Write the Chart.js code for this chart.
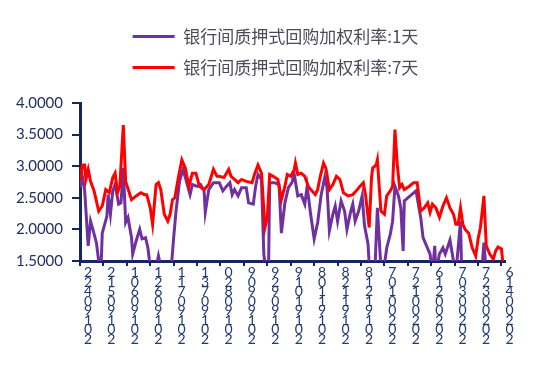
<!DOCTYPE html>
<html>
<head>
<meta charset="utf-8">
<script src="https://cdn.jsdelivr.net/npm/chart.js@4/dist/chart.umd.min.js"></script>
<style>
    html, body { margin: 0; padding: 0; background: #fff; }
    #wrap { width: 541px; height: 371px; position: relative; }
</style>
</head>
<body>
<div id="wrap"><canvas id="chart"></canvas></div>
<script>
// series names
const seriesNames = ['银行间质押式回购加权利率:1天', '银行间质押式回购加权利率:7天'];

// x tick labels, one every 20 days starting 2019-04-22
const tickDates = ['20190422', '20190512', '20190601', '20190621', '20190711', '20190731', '20190820',
    '20190909', '20190929', '20191019', '20191108', '20191128', '20191218', '20200107',
    '20200127', '20200216', '20200307', '20200327', '20200416'];

// y tick values
const yTicks = [1.5, 2.0, 2.5, 3.0, 3.5, 4.0];

// 1-day rate: days since 2019-04-22 and value (%)
const days1 = [0, 2, 4, 7, 9, 11, 14, 16, 18, 19, 23, 24, 26, 28, 30, 33, 35, 37, 39, 41,
    44, 45, 48, 51, 53, 56, 58, 60, 63, 65, 67, 69, 73, 78, 80, 82, 85, 88, 90, 94,
    96, 100, 103, 106, 107, 110, 114, 116, 119, 122, 125, 128, 130, 132, 135, 138, 142, 144, 148, 150,
    152, 155, 157, 159, 161, 162, 166, 170, 172, 175, 178, 181, 183, 186, 189, 192, 194, 197, 200, 203,
    206, 209, 211, 213, 216, 218, 220, 223, 226, 228, 231, 233, 235, 238, 241, 243, 246, 247, 249, 252,
    254, 257, 259, 262, 265, 267, 269, 272, 274, 276, 277, 287, 291, 293, 296, 299, 301, 303, 304, 307,
    310, 312, 316, 319, 321, 323, 325, 326, 333, 341, 343, 345, 347, 354, 361];
const rate1 = [2.66, 2.84, 2.61, 1.74, 2.13, 2.00, 1.79, 1.50, 1.40, 1.94, 2.21, 2.55, 2.24, 2.61, 2.71, 2.40, 2.42, 2.97, 2.11, 2.19,
    1.87, 1.61, 1.82, 2.00, 1.85, 1.87, 1.71, 1.40, 1.30, 1.40, 1.58, 1.40, 1.30, 1.40, 1.87, 2.29, 2.76, 2.95, 2.82, 2.55,
    2.71, 2.68, 2.71, 2.61, 2.27, 2.63, 2.74, 2.74, 2.74, 2.61, 2.68, 2.74, 2.55, 2.63, 2.53, 2.66, 2.66, 2.42, 2.40, 2.68,
    2.87, 2.79, 1.61, 1.30, 1.30, 2.74, 2.74, 2.71, 1.94, 2.42, 2.66, 2.74, 2.87, 2.53, 2.55, 2.40, 2.68, 2.24, 1.85, 2.11,
    2.55, 2.82, 2.66, 1.98, 2.24, 2.37, 2.13, 2.45, 2.29, 2.00, 2.27, 2.40, 2.13, 2.29, 2.53, 2.06, 1.77, 1.45, 1.30, 1.40,
    2.34, 1.40, 1.30, 1.71, 1.92, 2.13, 2.68, 2.53, 2.34, 1.66, 2.45, 2.61, 2.19, 1.87, 1.74, 1.61, 1.30, 1.74, 1.30, 1.61,
    1.71, 1.61, 1.83, 1.50, 1.30, 1.71, 2.13, 1.30, 1.20, 1.25, 1.30, 1.79, 1.30, 1.25, 1.20];

// 7-day rate: days since 2019-04-22 and value (%)
const days7 = [0, 2, 4, 5, 7, 9, 12, 16, 19, 22, 25, 28, 30, 32, 34, 37, 39, 44, 48, 52,
    55, 57, 60, 62, 65, 67, 69, 72, 75, 77, 79, 81, 84, 87, 90, 93, 96, 99, 102, 106,
    110, 114, 117, 119, 123, 127, 129, 132, 135, 138, 142, 147, 149, 152, 155, 158, 160, 162, 165, 169,
    172, 175, 177, 180, 183, 184, 186, 189, 192, 195, 198, 201, 203, 205, 208, 210, 213, 216, 219, 222,
    225, 229, 233, 236, 239, 242, 244, 247, 249, 250, 253, 254, 257, 260, 262, 265, 267, 269, 271, 273,
    275, 277, 281, 285, 288, 291, 294, 297, 299, 301, 304, 307, 310, 313, 316, 319, 321, 323, 325, 327,
    329, 332, 335, 338, 340, 342, 345, 347, 350, 353, 355, 357, 360, 361];
const rate7 = [2.76, 3.02, 3.02, 2.79, 2.95, 2.76, 2.61, 2.29, 2.37, 2.63, 2.58, 2.82, 2.89, 2.58, 2.68, 3.65, 2.76, 2.47, 2.53, 2.58,
    2.55, 2.55, 2.34, 2.08, 2.71, 2.74, 2.63, 2.24, 2.13, 2.24, 2.47, 2.50, 2.82, 3.10, 2.97, 2.68, 2.89, 2.89, 2.68, 2.63,
    2.71, 2.95, 2.84, 2.84, 2.82, 2.95, 2.84, 2.79, 2.74, 2.79, 2.76, 2.74, 2.87, 3.02, 2.89, 2.03, 2.19, 2.87, 2.84, 2.79,
    2.47, 2.68, 2.87, 2.84, 2.95, 3.05, 2.87, 2.89, 2.84, 2.68, 2.61, 2.55, 2.63, 2.82, 3.05, 2.97, 2.63, 2.71, 2.84, 2.79,
    2.58, 2.53, 2.55, 2.61, 2.68, 2.74, 2.53, 2.03, 2.82, 2.97, 3.02, 3.10, 2.29, 2.24, 2.53, 2.61, 2.68, 3.58, 3.02, 2.66,
    2.71, 2.63, 2.68, 2.74, 2.74, 2.29, 2.34, 2.42, 2.27, 2.40, 2.34, 2.19, 2.37, 2.50, 2.34, 2.24, 2.08, 2.08, 2.34, 2.08,
    2.00, 1.94, 1.71, 1.58, 1.85, 2.03, 2.53, 1.74, 1.61, 1.53, 1.66, 1.72, 1.69, 1.50];

const axisColor = '#13275e';
const labelColor = '#1f2d5e';

const points = (xs, ys) => xs.map((d, i) => ({x: d, y: ys[i]}));

// push the plot area down below the legend and nudge the legend right
const legendTweak = {
    id: 'legendTweak',
    beforeInit(chart) {
        const fit = chart.legend.fit;
        chart.legend.fit = function () {
            fit.bind(chart.legend)();
            this.height += 17;
        };
    },
    afterLayout(chart) {
        chart.legend.left += 23;
        chart.legend.right += 23;
    }
};

new Chart(document.getElementById('chart'), {
    type: 'line',
    data: {
        datasets: [
            {
                label: seriesNames[0],
                data: points(days1, rate1),
                borderColor: '#7030a0',
                backgroundColor: '#7030a0',
                borderWidth: 3,
                pointRadius: 0,
                tension: 0,
                order: 1
            },
            {
                label: seriesNames[1],
                data: points(days7, rate7),
                borderColor: '#ff0000',
                backgroundColor: '#ff0000',
                borderWidth: 3,
                pointRadius: 0,
                tension: 0,
                order: 0
            }
        ]
    },
    options: {
        responsive: true,
        maintainAspectRatio: false,
        animation: false,
        layout: {padding: {top: 14, right: 36, bottom: 0, left: 0}},
        plugins: {
            tooltip: {enabled: false},
            legend: {
                position: 'top',
                labels: {
                    boxWidth: 42,
                    boxHeight: 3,
                    padding: 14,
                    color: '#4a4a5c',
                    font: {family: '"Noto Sans CJK SC", sans-serif', size: 17},
                    generateLabels(chart) {
                        const items = Chart.defaults.plugins.legend.labels.generateLabels(chart);
                        items.forEach(it => { it.lineWidth = 0; });
                        return items.sort((a, b) => a.datasetIndex - b.datasetIndex);
                    }
                }
            }
        },
        scales: {
            x: {
                type: 'linear',
                min: 0,
                max: 363,
                afterFit(scale) { scale.height = 110; },
                border: {display: true, color: axisColor, width: 3},
                grid: {display: true, drawOnChartArea: false, drawTicks: true, tickLength: 5, color: axisColor, lineWidth: 2},
                ticks: {
                    stepSize: 20,
                    includeBounds: false,
                    autoSkip: false,
                    maxRotation: 0,
                    minRotation: 0,
                    padding: 2,
                    labelOffset: 8,
                    color: '#203a72',
                    font: {family: 'Lato, sans-serif', size: 14, lineHeight: 0.68},
                    callback(value) {
                        const s = tickDates[Math.round(value / 20)];
                        return s ? s.split('').reverse() : '';
                    }
                }
            },
            y: {
                min: 1.5,
                max: 4.0,
                afterFit(scale) { scale.width = 80; },
                afterBuildTicks(scale) { scale.ticks = yTicks.map(v => ({value: v})); },
                border: {display: true, color: axisColor, width: 3},
                grid: {display: true, drawOnChartArea: false, drawTicks: true, tickLength: 8, color: axisColor, lineWidth: 2},
                ticks: {
                    padding: 9,
                    color: labelColor,
                    font: {family: 'Lato, sans-serif', size: 15},
                    callback(value) { return Number(value).toFixed(4); }
                }
            }
        }
    },
    plugins: [legendTweak]
});
</script>
</body>
</html>
